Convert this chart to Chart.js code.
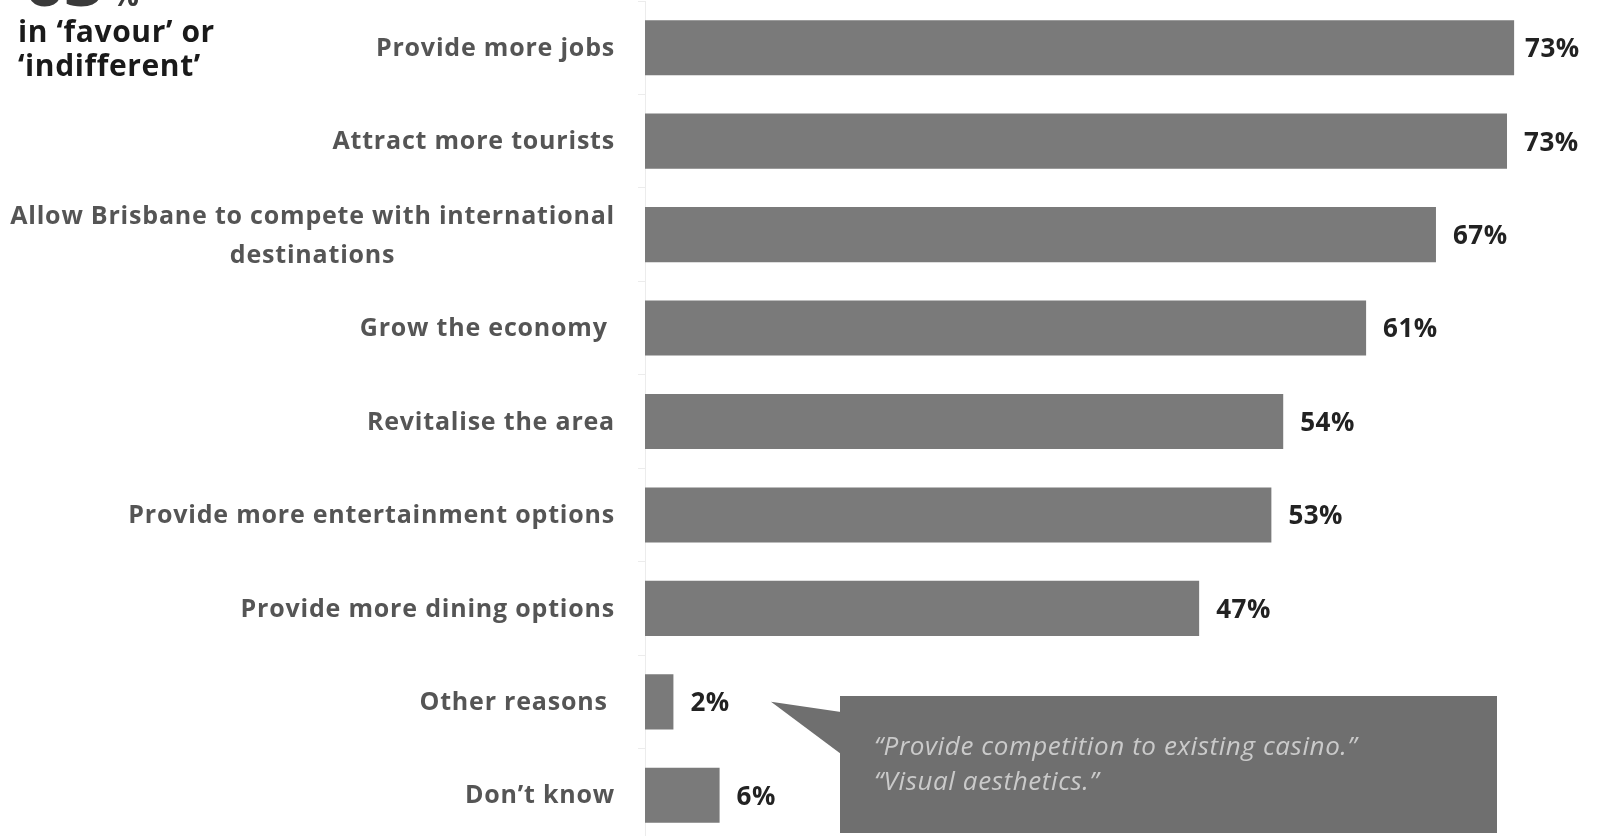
<!DOCTYPE html>
<html>
<head>
<meta charset="utf-8">
<script src="https://cdn.jsdelivr.net/npm/chart.js@4"></script>
<style>
  html, body { margin: 0; padding: 0; background: #fff; overflow: hidden; }
  #wrap { width: 1597px; height: 842px; position: relative; }
</style>
</head>
<body>
<div id="wrap"><canvas id="reasonsChart"></canvas></div>
<script>
// Dados do gráfico
const categories = [
    ['Provide more jobs'],
    ['Attract more tourists'],
    ['Allow Brisbane to compete with international', 'destinations'],
    ['Grow the economy '],
    ['Revitalise the area'],
    ['Provide more entertainment options'],
    ['Provide more dining options'],
    ['Other reasons '],
    ['Don\u2019t know']
];
// bar lengths, labels are the printed numbers
const barValues = [73.4, 72.8, 66.8, 60.9, 53.9, 52.9, 46.8, 2.4, 6.3];
const valueLabels = ['73%', '73%', '67%', '61%', '54%', '53%', '47%', '2%', '6%'];
const quotes = ['\u201CProvide competition to existing casino.\u201D', '\u201CVisual aesthetics.\u201D'];

const labelFont = 'bold 25px "Open Sans"';

// rótulos do eixo y (linha 2 centralizada na linha 1)
const yLabels = {
    id: 'yLabels',
    afterDraw(chart) {
        const ctx = chart.ctx;
        const y = chart.scales.y;
        ctx.save();
        ctx.font = labelFont;
        ctx.letterSpacing = '0.8px';
        ctx.fillStyle = '#555555';
        ctx.textBaseline = 'middle';
        const right = 615;
        categories.forEach((lines, i) => {
            const yc = y.getPixelForValue(i) + 1;
            if (lines.length === 1) {
                ctx.textAlign = 'right';
                ctx.fillText(lines[0], right, yc);
            } else {
                const w = ctx.measureText(lines[0]).width;
                const cx = right - w / 2;
                ctx.textAlign = 'center';
                ctx.fillText(lines[0], cx, yc - 19);
                ctx.fillText(lines[1], cx, yc + 20);
            }
        });
        ctx.restore();
    }
};

// valores ao lado das barras
const valueText = {
    id: 'valueText',
    afterDatasetsDraw(chart) {
        const ctx = chart.ctx;
        const meta = chart.getDatasetMeta(0);
        ctx.save();
        ctx.font = 'bold 26px "Open Sans"';
        ctx.letterSpacing = '0.5px';
        ctx.fillStyle = '#222222';
        ctx.textAlign = 'left';
        ctx.textBaseline = 'middle';
        meta.data.forEach((bar, i) => {
            const gap = i === 0 ? 11 : 17;
            ctx.fillText(valueLabels[i], bar.x + gap, bar.y + 2);
        });
        ctx.restore();
    }
};

// texto do canto e o balão
const extras = {
    id: 'extras',
    afterDraw(chart) {
        const ctx = chart.ctx;
        ctx.save();
        // número grande cortado no topo
        ctx.fillStyle = '#3a3a3a';
        ctx.textBaseline = 'alphabetic';
        ctx.textAlign = 'left';
        ctx.font = 'bold 70px "Open Sans"';
        ctx.fillText('63', 24, 6);
        ctx.font = 'bold 30px "Open Sans"';
        ctx.fillText('%', 112, 6);

        ctx.fillStyle = '#1a1a1a';
        ctx.font = 'bold 30px "Open Sans"';
        ctx.letterSpacing = '0.6px';
        ctx.textBaseline = 'middle';
        ctx.fillText('in \u2018favour\u2019 or', 18, 33);
        ctx.fillText('\u2018indifferent\u2019', 18, 67);

        // balão
        const yOther = chart.scales.y.getPixelForValue(7);
        ctx.fillStyle = '#6f6f6f';
        ctx.beginPath();
        ctx.moveTo(771, yOther);
        ctx.lineTo(841, 712);
        ctx.lineTo(841, 754);
        ctx.closePath();
        ctx.fill();
        ctx.fillRect(840, 696, 657, 137);

        ctx.fillStyle = '#cacaca';
        ctx.font = 'italic 26px "Open Sans"';
        ctx.letterSpacing = '0.6px';
        ctx.textAlign = 'left';
        ctx.fillText(quotes[0], 874, 748);
        ctx.fillText(quotes[1], 874, 783);
        ctx.restore();
    }
};

const data = {
    labels: categories.map(c => c.join(' ')),
    datasets: [{
        data: barValues,
        backgroundColor: '#7a7a7a',
        borderWidth: 0,
        barPercentage: 0.59,
        categoryPercentage: 1.0
    }]
};

const config = {
    type: 'bar',
    data: data,
    options: {
        indexAxis: 'y',
        responsive: true,
        maintainAspectRatio: false,
        animation: false,
        layout: { padding: { top: 1, right: 0, bottom: 0, left: 0 } },
        plugins: {
            legend: { display: false },
            tooltip: { enabled: false }
        },
        scales: {
            x: {
                display: false,
                min: 0,
                max: 80.4
            },
            y: {
                afterFit(scale) { scale.width = 645; },
                border: { display: true, color: '#ececec', width: 1 },
                grid: {
                    offset: true,
                    drawOnChartArea: false,
                    drawTicks: true,
                    tickLength: 7,
                    color: '#ececec'
                },
                ticks: { display: false }
            }
        }
    },
    plugins: [yLabels, valueText, extras]
};

const reasonsChart = new Chart(document.getElementById('reasonsChart'), config);
</script>
</body>
</html>
